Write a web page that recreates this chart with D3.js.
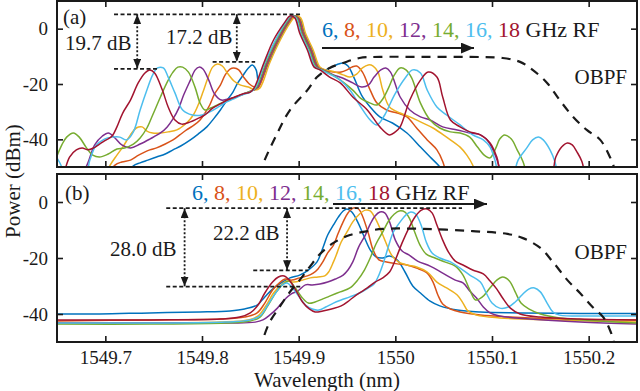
<html>
<head>
<meta charset="utf-8">
<script src="https://cdn.jsdelivr.net/npm/d3@7"></script>
</head>
<body style="margin:0">
<script>
// Axis ticks and RF labels
const lambdaTicks = [1549.7, 1549.8, 1549.9, 1550, 1550.1, 1550.2];
const powerTicks = [-40, -20, 0];
const rfGHz = [6, 8, 10, 12, 14, 16, 18];
const rfColors = ["#0072BD", "#D95319", "#EDB120", "#7E2F8E", "#77AC30", "#4DBEEE", "#A2142F"];

// Panel (a) spectra: [wavelength nm, power dBm]
const specA6 = [[1549.723,-53],[1549.729,-49.6],[1549.736,-48.5],[1549.744,-47.5],[1549.753,-46.4],[1549.762,-45.3],[1549.770,-43.8],[1549.778,-42.4],[1549.788,-40.2],[1549.796,-38.1],[1549.805,-35.5],[1549.812,-32.6],[1549.819,-29.4],[1549.826,-25.8],[1549.832,-22.9],[1549.837,-19.6],[1549.842,-17.1],[1549.848,-14.2],[1549.852,-13.1],[1549.856,-14.9],[1549.859,-20.0],[1549.869,-12.4],[1549.880,-4.1],[1549.890,2.0],[1549.896,4.6],[1549.901,3.9],[1549.906,-1.6],[1549.914,-7.7],[1549.921,-13.9],[1549.927,-14.9],[1549.934,-13.9],[1549.941,-12.8],[1549.946,-12.4],[1549.951,-13.5],[1549.957,-17.5],[1549.965,-24.0],[1549.974,-28.3],[1549.984,-31.9],[1549.997,-34.1],[1550.012,-37.7],[1550.026,-42.8],[1550.036,-46.4],[1550.046,-50.0],[1550.050,-53]];
const specA8 = [[1549.703,-53],[1549.710,-49.3],[1549.717,-48.2],[1549.726,-47.5],[1549.733,-46.0],[1549.739,-44.9],[1549.746,-43.8],[1549.753,-43.1],[1549.762,-41.7],[1549.770,-40.2],[1549.777,-38.4],[1549.784,-36.6],[1549.792,-34.8],[1549.798,-33.0],[1549.803,-30.5],[1549.808,-27.6],[1549.813,-23.6],[1549.819,-20.4],[1549.824,-16.7],[1549.829,-14.6],[1549.833,-14.2],[1549.838,-14.9],[1549.843,-17.5],[1549.849,-20.0],[1549.854,-21.1],[1549.858,-21.4],[1549.868,-12.4],[1549.879,-4.1],[1549.889,2.0],[1549.895,4.6],[1549.900,3.9],[1549.905,-1.6],[1549.913,-7.7],[1549.920,-13.9],[1549.926,-14.9],[1549.936,-15.7],[1549.944,-15.7],[1549.950,-14.9],[1549.955,-13.9],[1549.960,-13.5],[1549.966,-15.7],[1549.974,-22.2],[1549.981,-26.9],[1549.991,-29.4],[1550.002,-30.5],[1550.012,-31.9],[1550.022,-35.9],[1550.033,-40.2],[1550.043,-43.8],[1550.049,-48],[1550.053,-53]];
const specA10 = [[1549.700,-53],[1549.705,-49.3],[1549.712,-45.7],[1549.718,-42.8],[1549.726,-38.4],[1549.732,-35.9],[1549.738,-35.5],[1549.743,-37.0],[1549.749,-37.7],[1549.757,-37.7],[1549.765,-37.3],[1549.774,-36.6],[1549.784,-34.1],[1549.791,-31.2],[1549.796,-27.6],[1549.801,-22.9],[1549.806,-17.9],[1549.811,-13.9],[1549.816,-12.8],[1549.821,-13.5],[1549.827,-16.4],[1549.833,-18.9],[1549.840,-20.4],[1549.848,-21.1],[1549.855,-22.2],[1549.860,-21.4],[1549.870,-12.4],[1549.881,-4.1],[1549.891,2.0],[1549.897,4.6],[1549.902,3.9],[1549.907,-1.6],[1549.915,-7.7],[1549.922,-13.9],[1549.928,-14.9],[1549.938,-15.7],[1549.946,-16.7],[1549.953,-17.5],[1549.960,-16.4],[1549.966,-14.2],[1549.972,-13.1],[1549.977,-13.5],[1549.982,-15.7],[1549.987,-22.2],[1549.994,-28.3],[1550.005,-30.5],[1550.015,-31.9],[1550.026,-33.7],[1550.039,-35.9],[1550.053,-39.2],[1550.067,-42.8],[1550.074,-45.7],[1550.080,-49.3],[1550.083,-53]];
const specA12 = [[1549.676,-53],[1549.682,-48.5],[1549.689,-42.0],[1549.697,-38.8],[1549.703,-37.7],[1549.710,-39.5],[1549.717,-42.0],[1549.726,-43.1],[1549.736,-41.7],[1549.746,-39.9],[1549.757,-37.7],[1549.764,-35.5],[1549.770,-32.6],[1549.776,-28.7],[1549.781,-24.0],[1549.788,-18.6],[1549.793,-14.9],[1549.797,-13.9],[1549.801,-14.6],[1549.807,-18.6],[1549.813,-23.6],[1549.820,-25.8],[1549.827,-25.4],[1549.835,-24.7],[1549.843,-23.6],[1549.851,-22.5],[1549.857,-21.4],[1549.867,-12.4],[1549.878,-4.1],[1549.888,2.0],[1549.894,4.6],[1549.899,3.9],[1549.904,-1.6],[1549.912,-7.7],[1549.919,-13.9],[1549.925,-14.9],[1549.936,-16.7],[1549.946,-17.9],[1549.956,-19.6],[1549.965,-21.1],[1549.972,-20.4],[1549.978,-17.5],[1549.985,-14.9],[1549.990,-14.2],[1549.995,-15.7],[1550.005,-24.7],[1550.015,-29.4],[1550.026,-31.9],[1550.036,-33.0],[1550.049,-35.5],[1550.064,-36.6],[1550.077,-37.7],[1550.088,-38.4],[1550.095,-40.2],[1550.101,-43.8],[1550.107,-49.3],[1550.110,-53]];
const specA14 = [[1549.650,-46.0],[1549.655,-42.0],[1549.660,-39.2],[1549.667,-37.7],[1549.673,-39.2],[1549.680,-42.8],[1549.687,-45.7],[1549.694,-46.4],[1549.703,-45.3],[1549.712,-43.5],[1549.720,-43.1],[1549.729,-41.7],[1549.736,-39.5],[1549.743,-35.9],[1549.749,-31.2],[1549.757,-24.7],[1549.764,-19.3],[1549.770,-15.7],[1549.775,-13.9],[1549.780,-13.9],[1549.786,-15.7],[1549.793,-21.4],[1549.798,-26.9],[1549.803,-29.4],[1549.809,-28.7],[1549.818,-27.2],[1549.827,-25.8],[1549.835,-24.7],[1549.843,-23.6],[1549.851,-22.5],[1549.856,-21.4],[1549.866,-12.4],[1549.877,-4.1],[1549.887,2.0],[1549.893,4.6],[1549.898,3.9],[1549.903,-1.6],[1549.911,-7.7],[1549.918,-13.9],[1549.924,-14.9],[1549.935,-16.7],[1549.946,-19.3],[1549.956,-22.2],[1549.965,-25.4],[1549.974,-26.9],[1549.981,-27.6],[1549.987,-25.4],[1549.993,-21.4],[1549.999,-16.7],[1550.005,-14.2],[1550.011,-14.9],[1550.017,-17.9],[1550.026,-26.9],[1550.036,-33.0],[1550.046,-35.9],[1550.057,-37.3],[1550.067,-37.7],[1550.077,-39.2],[1550.085,-42.8],[1550.093,-46.0],[1550.098,-46.7],[1550.104,-43.1],[1550.108,-39.9],[1550.113,-38.4],[1550.120,-39.9],[1550.126,-43.8],[1550.132,-48],[1550.136,-53]];
const specA16 = [[1549.650,-46.7],[1549.654,-49.3],[1549.658,-53],[1549.679,-53],[1549.684,-47.5],[1549.690,-42.4],[1549.699,-39.9],[1549.707,-39.2],[1549.715,-39.2],[1549.722,-40.2],[1549.729,-37.3],[1549.736,-29.4],[1549.743,-22.2],[1549.749,-16.7],[1549.754,-14.2],[1549.760,-14.2],[1549.765,-17.5],[1549.772,-23.2],[1549.780,-29.4],[1549.790,-31.2],[1549.800,-31.2],[1549.808,-30.1],[1549.817,-28.3],[1549.825,-26.5],[1549.833,-25.4],[1549.841,-24.0],[1549.850,-22.9],[1549.855,-21.4],[1549.865,-12.4],[1549.876,-4.1],[1549.886,2.0],[1549.892,4.6],[1549.897,3.9],[1549.902,-1.6],[1549.910,-7.7],[1549.917,-13.9],[1549.923,-14.9],[1549.932,-16.4],[1549.943,-18.6],[1549.953,-22.2],[1549.963,-27.6],[1549.974,-33.0],[1549.981,-34.8],[1549.989,-31.2],[1549.999,-24.0],[1550.010,-17.9],[1550.018,-14.9],[1550.026,-16.0],[1550.033,-22.2],[1550.043,-28.3],[1550.053,-31.2],[1550.067,-34.8],[1550.080,-38.4],[1550.091,-40.2],[1550.098,-42.8],[1550.103,-47.5],[1550.108,-53],[1550.121,-53],[1550.127,-47.5],[1550.136,-43.1],[1550.142,-40.2],[1550.148,-39.2],[1550.153,-40.2],[1550.160,-43.8],[1550.165,-48],[1550.168,-53]];
const specA18 = [[1549.657,-53],[1549.663,-46.4],[1549.670,-43.8],[1549.676,-43.1],[1549.682,-43.8],[1549.688,-43.1],[1549.694,-41.7],[1549.701,-40.2],[1549.707,-38.8],[1549.712,-35.5],[1549.718,-30.5],[1549.726,-25.8],[1549.734,-19.6],[1549.741,-16.0],[1549.746,-14.9],[1549.751,-16.0],[1549.759,-22.2],[1549.765,-28.3],[1549.772,-33.0],[1549.779,-34.5],[1549.788,-33.7],[1549.795,-32.6],[1549.803,-31.2],[1549.811,-28.7],[1549.819,-27.2],[1549.826,-25.8],[1549.834,-24.7],[1549.842,-23.6],[1549.850,-22.9],[1549.854,-21.4],[1549.864,-12.4],[1549.874,-4.1],[1549.885,2.0],[1549.891,4.6],[1549.896,3.9],[1549.901,-1.6],[1549.909,-7.7],[1549.916,-13.9],[1549.922,-14.9],[1549.932,-17.5],[1549.943,-19.6],[1549.956,-24.7],[1549.971,-29.4],[1549.984,-35.5],[1549.994,-38.4],[1550.000,-37.3],[1550.005,-35.5],[1550.015,-25.8],[1550.026,-18.6],[1550.034,-15.7],[1550.043,-17.5],[1550.049,-24.7],[1550.057,-33.0],[1550.067,-35.5],[1550.077,-37.3],[1550.088,-38.4],[1550.098,-41.3],[1550.105,-46.4],[1550.111,-53],[1550.160,-53],[1550.166,-46.4],[1550.172,-42.8],[1550.178,-41.3],[1550.183,-42.0],[1550.188,-44.6],[1550.193,-48],[1550.196,-53]];
const obpfA = [[1549.860,-53],[1549.862,-50.0],[1549.878,-37.7],[1549.891,-29.4],[1549.909,-22.2],[1549.919,-17.5],[1549.932,-14.2],[1549.946,-12.4],[1549.963,-10.6],[1549.984,-10.2],[1550.026,-10.2],[1550.077,-10.2],[1550.111,-10.6],[1550.129,-12.0],[1550.142,-14.9],[1550.157,-19.6],[1550.170,-25.8],[1550.184,-31.9],[1550.198,-36.6],[1550.212,-40.2],[1550.222,-46.4],[1550.226,-50.0],[1550.227,-53]];

// Panel (b) spectra
const specB6 = [[1549.650,-40.0],[1549.694,-40.0],[1549.746,-39.6],[1549.798,-39.3],[1549.829,-38.9],[1549.844,-38.2],[1549.857,-36.8],[1549.865,-33.9],[1549.873,-31.1],[1549.882,-28.9],[1549.891,-27.1],[1549.901,-26.1],[1549.910,-24.3],[1549.919,-21.4],[1549.925,-16.4],[1549.930,-11.8],[1549.936,-8.2],[1549.941,-5.4],[1549.946,-3.2],[1549.950,-2.5],[1549.955,-3.6],[1549.961,-7.1],[1549.967,-11.8],[1549.974,-17.1],[1549.980,-19.6],[1549.987,-20.0],[1549.994,-19.3],[1550.002,-20.7],[1550.010,-25.0],[1550.018,-30.0],[1550.026,-32.5],[1550.036,-35.4],[1550.046,-37.1],[1550.064,-38.6],[1550.088,-39.3],[1550.129,-39.6],[1550.191,-39.8],[1550.250,-39.8]];
const specB8 = [[1549.650,-42.5],[1549.746,-42.1],[1549.819,-41.8],[1549.844,-41.1],[1549.857,-39.6],[1549.865,-36.1],[1549.873,-31.4],[1549.881,-28.6],[1549.886,-27.5],[1549.893,-27.9],[1549.901,-27.1],[1549.909,-26.4],[1549.915,-25.4],[1549.920,-23.9],[1549.925,-21.4],[1549.930,-18.2],[1549.936,-15.4],[1549.941,-11.1],[1549.946,-7.1],[1549.951,-3.9],[1549.957,-2.1],[1549.962,-2.5],[1549.966,-5.0],[1549.972,-11.1],[1549.977,-17.1],[1549.983,-20.7],[1549.991,-21.4],[1550.002,-22.1],[1550.012,-22.5],[1550.022,-23.6],[1550.033,-25.4],[1550.039,-28.6],[1550.044,-33.2],[1550.049,-36.4],[1550.057,-38.2],[1550.067,-39.3],[1550.088,-40.4],[1550.119,-41.1],[1550.170,-41.8],[1550.250,-42.1]];
const specB10 = [[1549.650,-43.2],[1549.746,-43.2],[1549.819,-42.9],[1549.848,-42.1],[1549.858,-40.7],[1549.866,-37.1],[1549.874,-32.5],[1549.882,-29.6],[1549.888,-28.2],[1549.895,-28.6],[1549.904,-27.9],[1549.912,-27.1],[1549.920,-26.8],[1549.927,-26.4],[1549.931,-25.0],[1549.936,-21.4],[1549.940,-17.9],[1549.944,-14.3],[1549.950,-10.7],[1549.956,-7.1],[1549.963,-4.3],[1549.969,-2.9],[1549.974,-3.2],[1549.979,-5.7],[1549.984,-9.3],[1549.990,-14.3],[1549.996,-18.9],[1550.003,-21.4],[1550.012,-22.5],[1550.022,-23.2],[1550.033,-25.0],[1550.043,-28.6],[1550.053,-30.7],[1550.064,-33.2],[1550.070,-36.1],[1550.075,-38.9],[1550.084,-40.4],[1550.108,-41.4],[1550.160,-42.1],[1550.250,-42.9]];
const specB12 = [[1549.650,-43.2],[1549.746,-43.2],[1549.829,-43.2],[1549.855,-42.9],[1549.863,-42.1],[1549.870,-40.4],[1549.878,-37.9],[1549.885,-35.0],[1549.892,-32.9],[1549.899,-31.8],[1549.907,-29.6],[1549.914,-29.6],[1549.922,-29.3],[1549.930,-28.6],[1549.938,-27.5],[1549.946,-26.1],[1549.951,-24.3],[1549.956,-21.4],[1549.962,-16.1],[1549.969,-11.8],[1549.974,-7.9],[1549.979,-5.0],[1549.984,-3.6],[1549.989,-3.9],[1549.994,-7.1],[1550.000,-13.6],[1550.007,-17.5],[1550.014,-18.9],[1550.023,-21.1],[1550.036,-22.9],[1550.049,-25.4],[1550.062,-27.9],[1550.070,-28.9],[1550.077,-31.8],[1550.084,-34.3],[1550.091,-37.5],[1550.098,-39.6],[1550.108,-40.7],[1550.139,-41.8],[1550.191,-42.9],[1550.250,-43.6]];
const specB14 = [[1549.650,-43.6],[1549.746,-43.6],[1549.824,-43.2],[1549.850,-42.5],[1549.860,-41.1],[1549.868,-37.1],[1549.877,-32.1],[1549.884,-29.3],[1549.890,-28.2],[1549.896,-30.4],[1549.903,-33.9],[1549.910,-36.1],[1549.917,-35.7],[1549.925,-34.6],[1549.932,-33.6],[1549.943,-32.1],[1549.953,-30.7],[1549.961,-27.9],[1549.968,-24.3],[1549.974,-20.0],[1549.980,-15.0],[1549.987,-10.7],[1549.993,-6.8],[1549.999,-4.3],[1550.004,-3.2],[1550.010,-3.6],[1550.015,-6.1],[1550.020,-10.7],[1550.026,-15.7],[1550.032,-18.6],[1550.041,-20.0],[1550.051,-21.4],[1550.062,-22.9],[1550.070,-26.1],[1550.077,-31.4],[1550.083,-35.0],[1550.090,-33.9],[1550.097,-31.1],[1550.105,-27.9],[1550.111,-26.8],[1550.118,-28.2],[1550.124,-32.1],[1550.130,-36.1],[1550.138,-38.2],[1550.150,-40.0],[1550.170,-41.4],[1550.212,-42.5],[1550.250,-43.2]];
const specB16 = [[1549.650,-43.2],[1549.746,-43.2],[1549.824,-42.9],[1549.850,-42.1],[1549.860,-40.7],[1549.868,-36.8],[1549.877,-32.1],[1549.883,-29.6],[1549.888,-28.9],[1549.893,-30.4],[1549.900,-33.6],[1549.907,-36.8],[1549.914,-38.2],[1549.921,-38.6],[1549.928,-37.5],[1549.936,-36.1],[1549.944,-35.0],[1549.953,-33.9],[1549.963,-32.5],[1549.972,-30.7],[1549.978,-29.3],[1549.983,-26.1],[1549.988,-21.4],[1549.993,-15.7],[1549.998,-10.7],[1550.005,-7.1],[1550.011,-4.6],[1550.016,-3.6],[1550.021,-4.3],[1550.027,-8.6],[1550.032,-14.3],[1550.038,-18.2],[1550.046,-20.0],[1550.057,-21.4],[1550.067,-23.6],[1550.077,-26.1],[1550.088,-28.6],[1550.094,-32.5],[1550.100,-36.1],[1550.108,-37.9],[1550.117,-37.5],[1550.124,-35.7],[1550.131,-33.2],[1550.138,-31.1],[1550.144,-30.7],[1550.150,-32.1],[1550.157,-36.1],[1550.163,-39.3],[1550.170,-40.4],[1550.212,-40.7],[1550.250,-40.7]];
const specB18 = [[1549.650,-42.1],[1549.746,-42.1],[1549.819,-41.8],[1549.839,-41.1],[1549.850,-39.6],[1549.858,-36.8],[1549.865,-32.5],[1549.873,-28.6],[1549.879,-26.8],[1549.885,-26.4],[1549.891,-28.2],[1549.898,-32.1],[1549.904,-35.7],[1549.911,-38.2],[1549.917,-39.3],[1549.925,-38.9],[1549.934,-38.2],[1549.944,-37.1],[1549.953,-35.0],[1549.961,-32.9],[1549.971,-30.7],[1549.979,-28.6],[1549.987,-27.1],[1549.994,-25.0],[1550.000,-20.7],[1550.007,-14.6],[1550.014,-9.3],[1550.021,-5.0],[1550.027,-2.9],[1550.033,-2.5],[1550.038,-3.9],[1550.043,-8.2],[1550.049,-13.6],[1550.055,-17.9],[1550.062,-21.1],[1550.070,-22.5],[1550.080,-24.3],[1550.091,-25.7],[1550.098,-28.2],[1550.105,-31.1],[1550.111,-34.3],[1550.119,-37.9],[1550.129,-40.0],[1550.150,-41.1],[1550.191,-41.8],[1550.250,-42.1]];
const obpfB = [[1549.861,-53],[1549.863,-49.3],[1549.870,-42.9],[1549.881,-37.1],[1549.891,-32.1],[1549.901,-27.9],[1549.912,-22.9],[1549.922,-18.6],[1549.936,-14.6],[1549.953,-11.8],[1549.971,-10.4],[1549.987,-9.6],[1550.029,-9.6],[1550.080,-10.4],[1550.116,-11.4],[1550.132,-12.9],[1550.150,-16.4],[1550.163,-21.4],[1550.178,-27.9],[1550.191,-32.5],[1550.204,-37.5],[1550.215,-41.1],[1550.222,-45.7],[1550.226,-50.0],[1550.227,-53]];

const seriesA = [specA6, specA8, specA10, specA12, specA14, specA16, specA18];
const seriesB = [specB6, specB8, specB10, specB12, specB14, specB16, specB18];

// dimension annotations: levels in dBm
const dimA = { top: 5.2, low: [-14.5, -12.0] };
const dimB = { top: -2.2, low: [-30.2, -24.4] };

const width = 640, height = 391;
const plotLeft = 57, plotRight = 637;
const ink = "#1a1a1a";
const serif = '"Liberation Serif"';

const svg = d3.select("body").append("svg")
  .attr("width", width).attr("height", height)
  .style("font-family", serif);

const defs = svg.append("defs");
defs.append("marker").attr("id", "tri")
  .attr("viewBox", "0 0 10 8").attr("refX", 10).attr("refY", 4)
  .attr("markerWidth", 10).attr("markerHeight", 8)
  .attr("markerUnits", "userSpaceOnUse").attr("orient", "auto-start-reverse")
  .append("path").attr("d", "M0,0L10,4L0,8Z").attr("fill", ink);
defs.append("marker").attr("id", "triBig")
  .attr("viewBox", "0 0 12 10").attr("refX", 12).attr("refY", 5)
  .attr("markerWidth", 13).attr("markerHeight", 11)
  .attr("markerUnits", "userSpaceOnUse").attr("orient", "auto")
  .append("path").attr("d", "M0,0L12,5L0,10Z").attr("fill", ink);

const x = d3.scaleLinear().domain([1549.65, 1550.25]).range([plotLeft, plotRight]);

const panels = [
  { id: "a", top: 1, bottom: 167, series: seriesA, obpf: obpfA },
  { id: "b", top: 174, bottom: 342, series: seriesB, obpf: obpfB },
];

panels.forEach((p) => {
  p.y = d3.scaleLinear().domain([-50, 10]).range([p.bottom, p.top]);

  svg.append("clipPath").attr("id", "clip-" + p.id)
    .append("rect")
    .attr("x", plotLeft).attr("y", p.top)
    .attr("width", plotRight - plotLeft).attr("height", p.bottom - p.top);

  const line = d3.line()
    .x((d) => x(d[0]))
    .y((d) => p.y(d[1]))
    .curve(d3.curveCatmullRom.alpha(0.5));

  const plot = svg.append("g").attr("clip-path", `url(#clip-${p.id})`);

  plot.selectAll(".spec")
    .data(p.series)
    .enter()
    .append("path")
    .attr("class", "spec")
    .attr("d", line)
    .attr("fill", "none")
    .attr("stroke", (d, i) => rfColors[i])
    .attr("stroke-width", 1.5)
    .attr("stroke-linejoin", "round");

  plot.append("path")
    .attr("d", line(p.obpf))
    .attr("fill", "none")
    .attr("stroke", ink)
    .attr("stroke-width", 2.2)
    .attr("stroke-dasharray", "9,7");

  // inward ticks on all four sides
  const tickStyle = (g) => {
    g.attr("font-family", null).style("font-family", serif);
    g.select(".domain").remove();
    g.selectAll(".tick line").attr("stroke", ink).attr("stroke-width", 1.6);
    g.selectAll(".tick text").attr("fill", ink).attr("font-size", 19).style("font-family", serif);
  };

  svg.append("g")
    .attr("transform", `translate(0,${p.bottom})`)
    .call(d3.axisBottom(x).tickValues(lambdaTicks).tickSizeInner(-6).tickSizeOuter(0)
      .tickPadding(9).tickFormat(p.id === "b" ? (d) => String(+d.toFixed(1)) : ""))
    .call(tickStyle);
  svg.append("g")
    .attr("transform", `translate(0,${p.top})`)
    .call(d3.axisTop(x).tickValues(lambdaTicks).tickSizeInner(-6).tickSizeOuter(0).tickFormat(""))
    .call(tickStyle);
  svg.append("g")
    .attr("transform", `translate(${plotLeft},0)`)
    .call(d3.axisLeft(p.y).tickValues(powerTicks).tickSizeInner(-6).tickSizeOuter(0)
      .tickPadding(9).tickFormat((d) => String(d)))
    .call(tickStyle);
  svg.append("g")
    .attr("transform", `translate(${plotRight},0)`)
    .call(d3.axisRight(p.y).tickValues(powerTicks).tickSizeInner(-6).tickSizeOuter(0).tickFormat(""))
    .call(tickStyle);

  svg.append("rect")
    .attr("x", plotLeft).attr("y", p.top)
    .attr("width", plotRight - plotLeft).attr("height", p.bottom - p.top)
    .attr("fill", "none").attr("stroke", ink).attr("stroke-width", 2);
});

const pA = panels[0], pB = panels[1];

// horizontal dashed reference lines
function hDash(p, x0, x1, level) {
  svg.append("line")
    .attr("x1", x(x0)).attr("x2", x(x1))
    .attr("y1", p.y(level)).attr("y2", p.y(level))
    .attr("stroke", ink).attr("stroke-width", 1.8)
    .attr("stroke-dasharray", "4,2.5");
}
// vertical dotted double arrow
function vArrow(p, at, y0, y1) {
  svg.append("line")
    .attr("x1", x(at)).attr("x2", x(at))
    .attr("y1", p.y(y0)).attr("y2", p.y(y1))
    .attr("stroke", ink).attr("stroke-width", 1.8)
    .attr("stroke-dasharray", "2,2")
    .attr("marker-start", "url(#tri)").attr("marker-end", "url(#tri)");
}
function label(txt, px, py, size, anchor) {
  svg.append("text")
    .style("font-family", serif)
    .attr("x", px).attr("y", py)
    .attr("font-size", size).attr("fill", ink)
    .attr("text-anchor", anchor || "start").text(txt);
}
function rfLabel(px, py) {
  const t = svg.append("text").style("font-family", serif)
    .attr("x", px).attr("y", py).attr("font-size", 22);
  rfGHz.forEach((f, i) => {
    t.append("tspan").attr("fill", rfColors[i]).text(i < rfGHz.length - 1 ? f + ", " : String(f));
  });
  t.append("tspan").attr("fill", ink).text(" GHz RF");
}
function hArrow(px0, px1, py) {
  svg.append("line")
    .attr("x1", px0).attr("x2", px1).attr("y1", py).attr("y2", py)
    .attr("stroke", ink).attr("stroke-width", 2.2)
    .attr("marker-end", "url(#triBig)");
}

// panel (a) annotations
hDash(pA, 1549.709, 1549.903, dimA.top);
hDash(pA, 1549.709, 1549.754, dimA.low[0]);
hDash(pA, 1549.811, 1549.855, dimA.low[1]);
vArrow(pA, 1549.733, dimA.top, dimA.low[0]);
vArrow(pA, 1549.836, dimA.top, dimA.low[1]);
label("(a)", 63, 24, 21);
label("19.7 dB", 65, 50, 21);
label("17.2 dB", 166, 44, 21);
rfLabel(322, 37);
hArrow(322, 474, 48);
label("OBPF", 627, 84, 21, "end");

// panel (b) annotations
hDash(pB, 1549.763, 1550.069, dimB.top);
hDash(pB, 1549.763, 1549.904, dimB.low[0]);
hDash(pB, 1549.853, 1549.910, dimB.low[1]);
vArrow(pB, 1549.782, dimB.top, dimB.low[0]);
vArrow(pB, 1549.888, dimB.top, dimB.low[1]);
label("(b)", 65, 200, 21);
label("28.0 dB", 110, 256, 21);
label("22.2 dB", 213, 240, 21);
rfLabel(192, 200);
hArrow(333, 487, 204);
label("OBPF", 627, 259, 21, "end");

// axis titles
label("Wavelength (nm)", 327, 387, 21, "middle");
svg.append("text")
  .style("font-family", serif)
  .attr("transform", "translate(20,181) rotate(-90)")
  .attr("font-size", 21).attr("fill", ink)
  .attr("text-anchor", "middle").text("Power (dBm)");
</script>
</body>
</html>
